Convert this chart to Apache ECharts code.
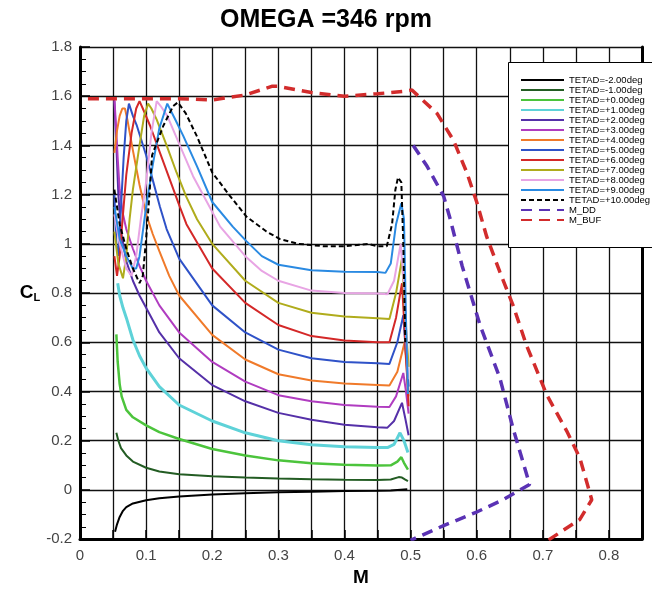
<!DOCTYPE html>
<html>
<head>
<meta charset="utf-8">
<script src="https://cdn.jsdelivr.net/npm/echarts@6/dist/echarts.min.js"></script>
<style>
  html, body { margin: 0; padding: 0; background: #fff; }
  #chart { width: 652px; height: 592px; }
</style>
</head>
<body>
<div id="chart"></div>
<script>
// [M, CL] pairs
const tetadM2 = [[0.053,-0.17],[0.056,-0.14],[0.06,-0.11],[0.065,-0.085],[0.07,-0.07],[0.08,-0.055],[0.1,-0.042],[0.12,-0.034],[0.15,-0.027],[0.2,-0.019],[0.25,-0.014],[0.3,-0.01],[0.35,-0.008],[0.4,-0.005],[0.45,-0.003],[0.47,-0.002],[0.48,0],[0.49,0.002],[0.495,0.003]]
const tetadM1 = [[0.055,0.232],[0.058,0.2],[0.062,0.17],[0.07,0.14],[0.08,0.115],[0.1,0.09],[0.12,0.075],[0.15,0.064],[0.2,0.055],[0.25,0.05],[0.3,0.046],[0.35,0.043],[0.4,0.041],[0.45,0.04],[0.47,0.042],[0.482,0.052],[0.487,0.05],[0.492,0.042],[0.496,0.036]]
const tetad0 = [[0.055,0.632],[0.057,0.52],[0.06,0.43],[0.063,0.38],[0.07,0.325],[0.08,0.295],[0.1,0.262],[0.12,0.235],[0.15,0.207],[0.2,0.166],[0.25,0.14],[0.3,0.12],[0.35,0.108],[0.4,0.102],[0.45,0.099],[0.47,0.1],[0.48,0.115],[0.486,0.133],[0.49,0.11],[0.496,0.082]]
const tetad1 = [[0.057,0.84],[0.06,0.79],[0.065,0.74],[0.07,0.7],[0.08,0.61],[0.09,0.545],[0.1,0.495],[0.12,0.42],[0.15,0.345],[0.2,0.28],[0.25,0.232],[0.3,0.2],[0.35,0.183],[0.4,0.175],[0.45,0.172],[0.465,0.172],[0.475,0.185],[0.484,0.232],[0.49,0.2],[0.496,0.152]]
const tetad2 = [[0.052,1.58],[0.055,1.4],[0.058,1.2],[0.062,1.05],[0.07,0.93],[0.08,0.85],[0.09,0.79],[0.1,0.74],[0.12,0.64],[0.15,0.535],[0.2,0.426],[0.25,0.36],[0.3,0.313],[0.35,0.285],[0.4,0.265],[0.45,0.255],[0.465,0.253],[0.475,0.28],[0.487,0.354],[0.492,0.29],[0.497,0.222]]
const tetad3 = [[0.052,1.59],[0.054,1.5],[0.057,1.35],[0.06,1.22],[0.065,1.12],[0.07,1.06],[0.08,0.98],[0.09,0.91],[0.1,0.85],[0.12,0.75],[0.15,0.64],[0.2,0.52],[0.25,0.44],[0.3,0.385],[0.35,0.36],[0.4,0.345],[0.45,0.338],[0.468,0.337],[0.478,0.38],[0.489,0.475],[0.493,0.4],[0.497,0.31]]
const tetad4 = [[0.052,1.37],[0.056,1.46],[0.06,1.52],[0.064,1.55],[0.068,1.55],[0.072,1.5],[0.08,1.38],[0.09,1.24],[0.1,1.12],[0.11,1.04],[0.12,0.97],[0.135,0.87],[0.15,0.79],[0.2,0.63],[0.25,0.53],[0.3,0.47],[0.35,0.445],[0.4,0.432],[0.45,0.426],[0.468,0.424],[0.48,0.48],[0.491,0.6],[0.494,0.5],[0.497,0.38]]
const tetad5 = [[0.052,1.2],[0.055,1.0],[0.058,0.95],[0.062,1.15],[0.066,1.35],[0.07,1.5],[0.074,1.57],[0.08,1.52],[0.086,1.48],[0.1,1.36],[0.11,1.26],[0.121,1.15],[0.131,1.06],[0.15,0.94],[0.2,0.75],[0.25,0.64],[0.3,0.57],[0.35,0.535],[0.4,0.52],[0.45,0.515],[0.468,0.512],[0.48,0.6],[0.489,0.71],[0.493,0.55],[0.497,0.42]]
const tetad6 = [[0.052,0.95],[0.056,0.87],[0.06,0.95],[0.065,1.12],[0.07,1.28],[0.078,1.45],[0.085,1.55],[0.09,1.58],[0.095,1.55],[0.106,1.48],[0.121,1.37],[0.136,1.26],[0.151,1.15],[0.161,1.08],[0.2,0.9],[0.25,0.76],[0.3,0.67],[0.35,0.625],[0.4,0.607],[0.45,0.6],[0.468,0.6],[0.478,0.7],[0.487,0.84],[0.492,0.6],[0.497,0.34]]
const tetad7 = [[0.052,1.05],[0.058,0.92],[0.065,0.86],[0.07,0.95],[0.075,1.1],[0.08,1.22],[0.09,1.4],[0.097,1.52],[0.103,1.57],[0.108,1.55],[0.116,1.505],[0.131,1.4],[0.146,1.29],[0.161,1.19],[0.177,1.1],[0.2,1.0],[0.25,0.85],[0.3,0.76],[0.35,0.72],[0.4,0.705],[0.45,0.698],[0.468,0.695],[0.478,0.8],[0.487,0.94],[0.492,0.7],[0.497,0.5]]
const tetad8 = [[0.052,1.12],[0.06,1.0],[0.07,0.9],[0.078,0.87],[0.085,0.95],[0.092,1.1],[0.1,1.25],[0.108,1.45],[0.116,1.58],[0.122,1.56],[0.132,1.52],[0.151,1.4],[0.171,1.275],[0.192,1.17],[0.212,1.07],[0.25,0.95],[0.275,0.89],[0.3,0.85],[0.35,0.81],[0.4,0.8],[0.45,0.798],[0.465,0.795],[0.475,0.85],[0.485,1.0],[0.491,0.8],[0.496,0.45]]
const tetad9 = [[0.052,1.15],[0.06,1.02],[0.07,0.95],[0.08,0.9],[0.085,0.9],[0.09,0.95],[0.095,1.05],[0.1,1.15],[0.11,1.32],[0.12,1.47],[0.132,1.57],[0.145,1.5],[0.156,1.44],[0.177,1.315],[0.2,1.17],[0.231,1.07],[0.252,1.01],[0.275,0.95],[0.3,0.915],[0.35,0.893],[0.4,0.887],[0.45,0.886],[0.462,0.882],[0.47,0.92],[0.478,1.08],[0.486,1.165],[0.49,1.1],[0.493,0.7],[0.496,0.39]]
const tetad10 = [[0.052,1.22],[0.06,1.08],[0.07,0.98],[0.08,0.9],[0.09,0.84],[0.095,0.87],[0.1,1.02],[0.105,1.2],[0.109,1.36],[0.126,1.48],[0.141,1.56],[0.148,1.575],[0.16,1.53],[0.177,1.436],[0.2,1.29],[0.227,1.194],[0.252,1.11],[0.282,1.05],[0.302,1.02],[0.33,1.0],[0.37,0.99],[0.4,0.99],[0.436,1.0],[0.45,0.99],[0.464,0.99],[0.472,1.08],[0.477,1.22],[0.481,1.27],[0.486,1.25],[0.489,1.0],[0.492,0.6]]
const mDD = [[0.504,1.4],[0.525,1.315],[0.55,1.194],[0.56,1.1],[0.578,0.91],[0.605,0.67],[0.635,0.455],[0.655,0.25],[0.68,0.022],[0.64,-0.04],[0.6,-0.09],[0.55,-0.145],[0.5,-0.205]]
const mBUF = [[0.012,1.59],[0.05,1.59],[0.1,1.59],[0.15,1.59],[0.2,1.585],[0.25,1.605],[0.29,1.64],[0.3,1.64],[0.35,1.615],[0.4,1.6],[0.45,1.61],[0.49,1.62],[0.502,1.625],[0.54,1.53],[0.565,1.42],[0.585,1.29],[0.6,1.17],[0.615,1.03],[0.635,0.886],[0.655,0.75],[0.675,0.59],[0.706,0.386],[0.736,0.24],[0.756,0.13],[0.774,-0.04],[0.756,-0.12],[0.705,-0.21]]

const names = ['TETAD=-2.00deg', 'TETAD=-1.00deg', 'TETAD=+0.00deg', 'TETAD=+1.00deg', 'TETAD=+2.00deg',
  'TETAD=+3.00deg', 'TETAD=+4.00deg', 'TETAD=+5.00deg', 'TETAD=+6.00deg', 'TETAD=+7.00deg',
  'TETAD=+8.00deg', 'TETAD=+9.00deg', 'TETAD=+10.00deg', 'M_DD', 'M_BUF']
const datas = [tetadM2, tetadM1, tetad0, tetad1, tetad2, tetad3, tetad4, tetad5, tetad6, tetad7, tetad8, tetad9, tetad10, mDD, mBUF]
const colors = ['#000000', '#235c23', '#4cc43c', '#5ed2d8', '#5530a8', '#b03cc0', '#f07a2a', '#2f52c8', '#d42828',
  '#b0ac1c', '#e8a4e4', '#2a8ae2', '#000000', '#5a32b4', '#d22c2c']
const widths = [2, 2, 2.5, 3, 2, 2, 2, 2, 2, 2, 2, 2, 2, 3.5, 3.5]
const dashes = [null, null, null, null, null, null, null, null, null, null, null, null, [5, 3], [11, 7], [11, 7]]

const series = datas.map((d, i) => ({
  name: names[i],
  type: 'line',
  data: d,
  showSymbol: false,
  symbol: 'none',
  smooth: false,
  z: i >= 13 ? 3 : 2,
  lineStyle: {
    color: colors[i],
    width: widths[i],
    type: dashes[i] || 'solid'
  },
  itemStyle: { color: colors[i] }
}))

const font = 'Arial, "Liberation Sans", sans-serif'

const option = {
  animation: false,
  backgroundColor: '#fff',
  title: {
    text: 'OMEGA =346 rpm',
    left: 'center',
    top: 3,
    textStyle: { fontSize: 25, fontWeight: 'bold', color: '#000', fontFamily: font }
  },
  grid: { left: 80, right: 10, top: 47, bottom: 49 },
  xAxis: {
    type: 'value',
    min: 0,
    max: 0.85,
    interval: 0.05,
    name: 'M',
    nameLocation: 'middle',
    nameGap: 28,
    nameTextStyle: { fontSize: 19, fontWeight: 'bold', color: '#000', fontFamily: font },
    axisLine: { show: true, onZero: false, lineStyle: { color: '#000', width: 3 } },
    axisTick: { show: true, inside: true, length: 9, lineStyle: { color: '#000', width: 1.5 } },
    axisLabel: {
      margin: 9,
      fontSize: 15,
      color: '#444',
      fontFamily: font,
      formatter: v => (Math.round(v * 20) % 2 === 0 ? String(+v.toFixed(1)) : '')
    },
    splitLine: { show: true, lineStyle: { color: '#111', width: 1.3 } }
  },
  yAxis: [{
    type: 'value',
    min: -0.2,
    max: 1.8,
    interval: 0.2,
    name: '{c|C}{l|L}',
    nameLocation: 'middle',
    nameRotate: 0,
    nameGap: 36,
    nameTextStyle: {
      rich: {
        c: { fontSize: 19, fontWeight: 'bold', color: '#000', fontFamily: font },
        l: { fontSize: 11, fontWeight: 'bold', color: '#000', fontFamily: font, padding: [10, 0, 0, 0] }
      }
    },
    axisLine: { show: true, onZero: false, lineStyle: { color: '#000', width: 3 } },
    axisTick: { show: true, inside: true, length: 10, lineStyle: { color: '#000', width: 1.5 } },
    minorTick: { show: true, splitNumber: 4, length: 6, lineStyle: { color: '#000', width: 1 } },
    axisLabel: { margin: 8, fontSize: 15, color: '#444', fontFamily: font },
    splitLine: { show: true, lineStyle: { color: '#111', width: 1.3 } }
  }, {
    type: 'value',
    position: 'right',
    min: -0.2,
    max: 1.8,
    interval: 0.2,
    axisLine: { show: true, onZero: false, lineStyle: { color: '#000', width: 3 } },
    axisTick: { show: false },
    axisLabel: { show: false },
    splitLine: { show: false }
  }],
  legend: {
    orient: 'vertical',
    left: 520,
    top: 75,
    z: 6,
    itemWidth: 43,
    itemHeight: 10,
    itemGap: 0,
    padding: 0,
    itemStyle: { opacity: 0 },
    textStyle: { fontSize: 9.5, lineHeight: 10, color: '#000', fontFamily: font },
    data: names
  },
  graphic: [{
    type: 'rect',
    z: 5,
    shape: { x: 508.5, y: 62.5, width: 150, height: 185 },
    style: { fill: '#fff', stroke: '#000', lineWidth: 1 }
  }],
  series: series
}

const chart = echarts.init(document.getElementById('chart'), null, { renderer: 'canvas' })
chart.setOption(option)
</script>
</body>
</html>
